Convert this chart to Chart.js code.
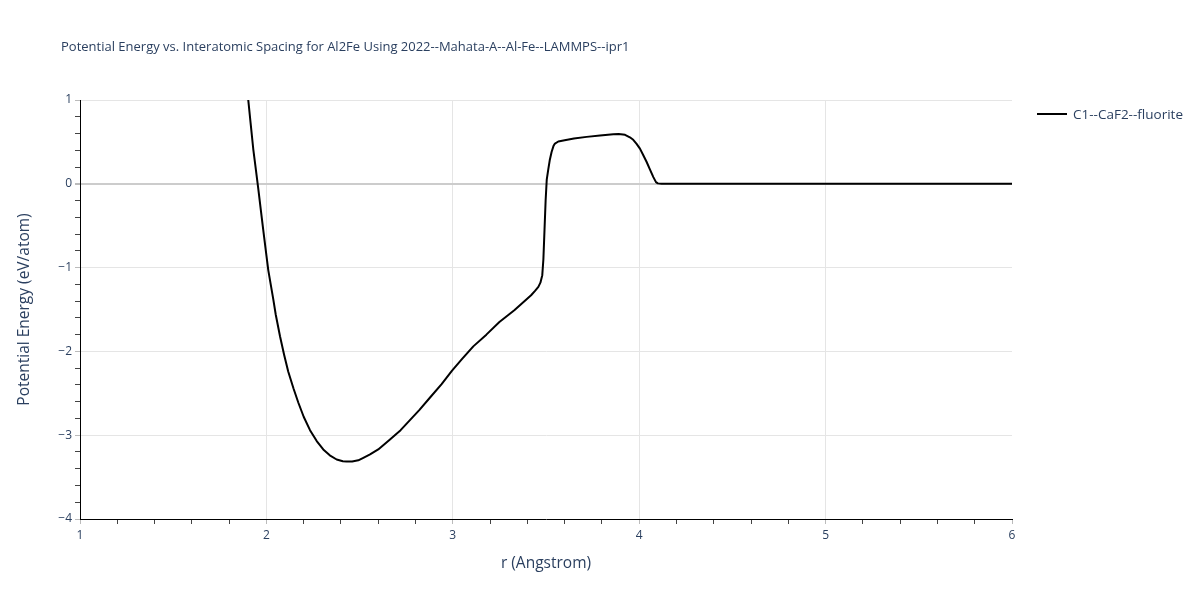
<!DOCTYPE html>
<html>
<head>
<meta charset="utf-8">
<script src="https://cdn.jsdelivr.net/npm/chart.js@4.4.1/dist/chart.umd.min.js"></script>
<style>
  html, body { margin: 0; padding: 0; background: #fff; }
  #wrap { position: relative; width: 1200px; height: 600px; font-family: "Open Sans", verdana, arial, sans-serif; color: #2a3f5f; }
  #title { position: absolute; left: 61px; top: 37px; font-size: 13px; white-space: nowrap; }
  #legend { position: absolute; left: 1037px; top: 105px; font-size: 13.5px; white-space: nowrap; display: flex; align-items: center; }
  #legend .sw { display: inline-block; width: 30px; height: 0; border-top: 2px solid #000; margin-right: 6px; }
  canvas { position: absolute; left: 0; top: 0; }
</style>
</head>
<body>
<div id="wrap">
  <canvas id="c" width="1200" height="600"></canvas>
  <div id="title">Potential Energy vs. Interatomic Spacing for Al2Fe Using 2022--Mahata-A--Al-Fe--LAMMPS--ipr1</div>
  <div id="legend"><span class="sw"></span><span id="legendText"></span></div>
</div>
<script>
const seriesName = "C1--CaF2--fluorite";
const xAxisTitle = "r (Angstrom)";
const yAxisTitle = "Potential Energy (eV/atom)";

const rValues = [
  1.90, 1.915, 1.93, 1.944, 1.957, 1.97, 1.983, 1.997, 2.01, 2.037,
  2.05, 2.073, 2.095, 2.117, 2.145, 2.171, 2.2, 2.234, 2.27, 2.305,
  2.34, 2.377, 2.41, 2.43, 2.46, 2.493, 2.52, 2.556, 2.6, 2.663,
  2.72, 2.77, 2.82, 2.878, 2.94, 2.996, 3.05, 3.11, 3.18, 3.25,
  3.33, 3.39, 3.42, 3.44, 3.459, 3.47, 3.48, 3.486, 3.492, 3.498,
  3.504, 3.512, 3.52, 3.53, 3.54, 3.548, 3.566, 3.6, 3.65,
  3.718, 3.79, 3.861, 3.89, 3.924, 3.95, 3.968, 3.985, 4.004, 4.02,
  4.04, 4.058, 4.076, 4.09, 4.10, 4.12, 4.5, 5.0, 5.5, 6.0
];
const energyValues = [
  1.06, 0.73, 0.405, 0.16, -0.07, -0.31, -0.55, -0.80, -1.03, -1.38,
  -1.56, -1.82, -2.04, -2.24, -2.44, -2.61, -2.78, -2.94, -3.07, -3.17,
  -3.24, -3.29, -3.31, -3.315, -3.315, -3.30, -3.27, -3.23, -3.17, -3.05,
  -2.94, -2.82, -2.70, -2.55, -2.39, -2.23, -2.09, -1.94, -1.80, -1.65,
  -1.51, -1.39, -1.33, -1.28, -1.23, -1.18, -1.09, -0.90, -0.55, -0.20,
  0.05, 0.17, 0.28, 0.38, 0.45, 0.48, 0.505, 0.52, 0.54,
  0.56, 0.575, 0.59, 0.595, 0.585, 0.555, 0.525, 0.48, 0.42, 0.35,
  0.26, 0.17, 0.08, 0.02, 0.005, 0.0, 0.0, 0.0, 0.0, 0.0
];
const xTickValues = [1, 2, 3, 4, 5, 6];
const yTickValues = [-4, -3, -2, -1, 0, 1];

document.getElementById('legendText').textContent = seriesName;

const points = rValues.map((r, i) => ({ x: r, y: energyValues[i] }));
const isMajor = (v, list) => list.some(t => Math.abs(t - v) < 1e-6);
const fmt = v => (v < 0 ? '\u2212' + Math.abs(Math.round(v)) : String(Math.round(v)));
const fontSpec = { family: '"Open Sans", verdana, arial, sans-serif', size: 12 };

new Chart(document.getElementById('c'), {
  type: 'scatter',
  data: {
    datasets: [{
      label: seriesName,
      data: points,
      showLine: true,
      borderColor: '#000000',
      backgroundColor: '#000000',
      borderWidth: 2,
      borderJoinStyle: 'round',
      pointRadius: 0,
      tension: 0
    }]
  },
  options: {
    responsive: false,
    animation: false,
    devicePixelRatio: 1,
    layout: { padding: { top: 100, right: 188, bottom: 0, left: 0 } },
    plugins: { legend: { display: false }, title: { display: false }, tooltip: { enabled: false } },
    scales: {
      x: {
        type: 'linear', min: 1, max: 6,
        afterFit: s => { s.height = 81; },
        ticks: {
          stepSize: 0.2, autoSkip: false, maxRotation: 0, padding: 4,
          color: '#2a3f5f', font: fontSpec,
          callback: v => isMajor(v, xTickValues) ? fmt(v) : ''
        },
        grid: {
          color: c => (isMajor(c.tick.value, xTickValues) && c.tick.value > 1 && c.tick.value < 6) ? '#e5e5e5' : 'rgba(0,0,0,0)',
          lineWidth: 1,
          drawTicks: true, tickLength: 5,
          tickColor: c => isMajor(c.tick.value, xTickValues) ? '#bbbbbb' : '#444444'
        },
        border: { display: true, color: '#000000', width: 1 },
        title: { display: true, text: xAxisTitle, color: '#2a3f5f', font: { family: fontSpec.family, size: 15.5 }, padding: { top: 4, bottom: 27 } }
      },
      y: {
        type: 'linear', min: -4, max: 1,
        afterFit: s => { s.width = 80; },
        ticks: {
          stepSize: 0.2, autoSkip: false, padding: 3,
          color: '#2a3f5f', font: fontSpec,
          callback: v => isMajor(v, yTickValues) ? fmt(v) : ''
        },
        grid: {
          color: c => {
            const v = c.tick.value;
            if (Math.abs(v) < 1e-6) return '#cccccc';
            return (isMajor(v, yTickValues) && v > -4) ? '#e5e5e5' : 'rgba(0,0,0,0)';
          },
          lineWidth: c => Math.abs(c.tick.value) < 1e-6 ? 2 : 1,
          drawTicks: true, tickLength: 5,
          tickColor: c => isMajor(c.tick.value, yTickValues) ? '#bbbbbb' : '#444444'
        },
        border: { display: true, color: '#000000', width: 1 },
        title: { display: true, text: yAxisTitle, color: '#2a3f5f', font: { family: fontSpec.family, size: 15.5 }, padding: { top: 15, bottom: 4 } }
      }
    }
  }
});
</script>
</body>
</html>
